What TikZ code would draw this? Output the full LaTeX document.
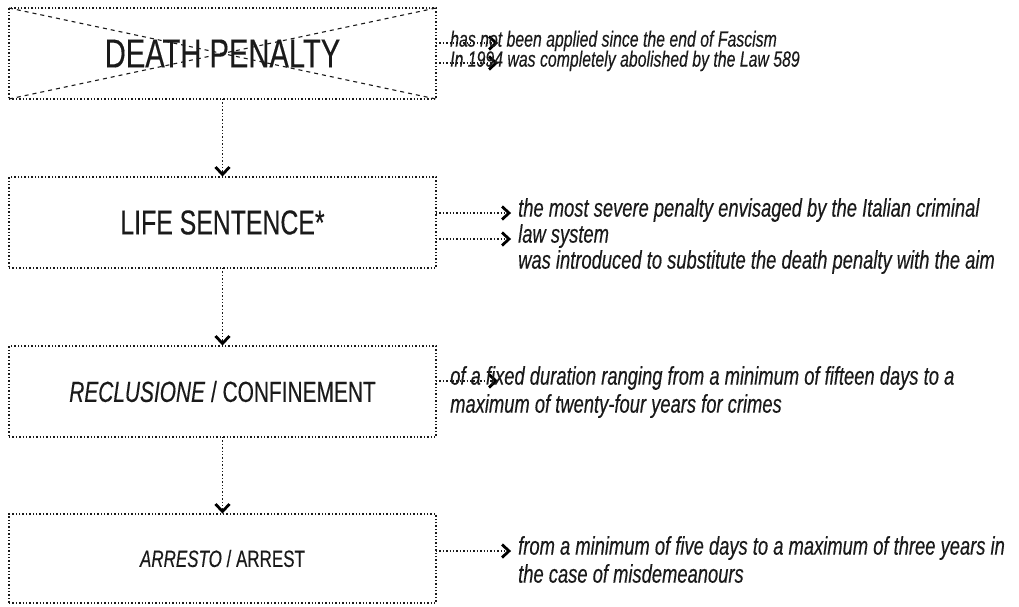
\documentclass[tikz,border=0pt]{standalone}
\usepackage{fontspec}
\setmainfont{Liberation Sans}[FakeStretch=0.72, FakeBold=0.3]
\definecolor{ink}{HTML}{1A1A1A}
\tikzset{
  dotline/.style={draw=ink, line width=1.4pt, dash pattern=on 1.4pt off 2pt},
  penbox/.style={dotline, rectangle, minimum width=427pt, minimum height=91pt,
    inner sep=0pt, outer sep=0pt, text=ink, align=center},
  crossline/.style={draw=ink, line width=1.1pt, dash pattern=on 4pt off 4pt},
  % chevron heads, drawn solid over the ends of the dotted connectors
  headmark/.style={draw=black, solid, line width=2.8pt, line join=miter, line cap=butt},
  note/.style={anchor=mid west, inner sep=0pt, text=ink,
    font=\itshape\fontsize{25.5}{30}\selectfont},
  smallnote/.style={note, font=\itshape\fontsize{22}{26}\selectfont},
}
\begin{document}
\begin{tikzpicture}[x=1pt, y=-1pt]
  \useasboundingbox (0,0) rectangle (1019,606);

  % the four penalties, from the heaviest down
  \node[penbox, font=\fontsize{40.5}{46}\selectfont] (death) at (222.5,53.5) {DEATH PENALTY};
  \node[penbox, font=\fontsize{34.5}{40}\selectfont] (life) at (222.5,222.5) {LIFE SENTENCE*};
  \node[penbox, font=\fontsize{29}{34}\selectfont] (recl) at (222.5,391.5) {\textit{RECLUSIONE} / CONFINEMENT};
  \node[penbox, minimum height=89pt, font=\fontsize{23.6}{28}\selectfont] (arr) at (222.5,558.5) {\textit{ARRESTO} / ARREST};

  % abolished: crossed out
  \draw[crossline] (death.north west) -- (death.south east);
  \draw[crossline] (death.south west) -- (death.north east);

  % descending chain
  \draw[dotline] (death.south) -- (life.north);
  \draw[headmark] (life.north) ++(-7,-10) -- ++(7,7.5) -- ++(7,-7.5);
  \draw[dotline] (life.south) -- (recl.north);
  \draw[headmark] (recl.north) ++(-7,-10) -- ++(7,7.5) -- ++(7,-7.5);
  \draw[dotline] (recl.south) -- (arr.north);
  \draw[headmark] (arr.north) ++(-7,-10) -- ++(7,7.5) -- ++(7,-7.5);

  % notes on the death penalty
  \coordinate (d1) at (497,43);
  \coordinate (d2) at (497,63);
  \draw[dotline] (death.east |- d1) -- (d1);
  \draw[headmark] (d1) ++(-8,-6.5) -- ++(7,6.5) -- ++(-7,6.5);
  \draw[dotline] (death.east |- d2) -- (d2);
  \draw[headmark] (d2) ++(-8,-6.5) -- ++(7,6.5) -- ++(-7,6.5);
  \node[smallnote] (dn1) at (450,44) {has not been applied since the end of Fascism};
  \node[smallnote] (dn2) at (450,64) {In 1994 was completely abolished by the Law 589};

  % notes on the life sentence
  \coordinate (l1) at (510,213);
  \coordinate (l2) at (510,239);
  \draw[dotline] (life.east |- l1) -- (l1);
  \draw[headmark] (l1) ++(-8,-6.5) -- ++(7,6.5) -- ++(-7,6.5);
  \draw[dotline] (life.east |- l2) -- (l2);
  \draw[headmark] (l2) ++(-8,-6.5) -- ++(7,6.5) -- ++(-7,6.5);
  \node[note] (ln1) at (518,214) {the most severe penalty envisaged by the Italian criminal};
  \node[note] (ln2) at (518,240) {law system};
  \node[note] (ln3) at (518,266) {was introduced to substitute the death penalty with the aim};

  % notes on reclusione
  \coordinate (r1) at (497,381);
  \draw[dotline] (recl.east |- r1) -- (r1);
  \draw[headmark] (r1) ++(-8,-6.5) -- ++(7,6.5) -- ++(-7,6.5);
  \node[note] (rn1) at (450,382) {of a fixed duration ranging from a minimum of fifteen days to a};
  \node[note] (rn2) at (450,410) {maximum of twenty-four years for crimes};

  % notes on arresto
  \coordinate (a1) at (510,551);
  \draw[dotline] (arr.east |- a1) -- (a1);
  \draw[headmark] (a1) ++(-8,-6.5) -- ++(7,6.5) -- ++(-7,6.5);
  \node[note] (an1) at (518,552) {from a minimum of five days to a maximum of three years in};
  \node[note] (an2) at (518,580) {the case of misdemeanours};
\end{tikzpicture}
\end{document}
